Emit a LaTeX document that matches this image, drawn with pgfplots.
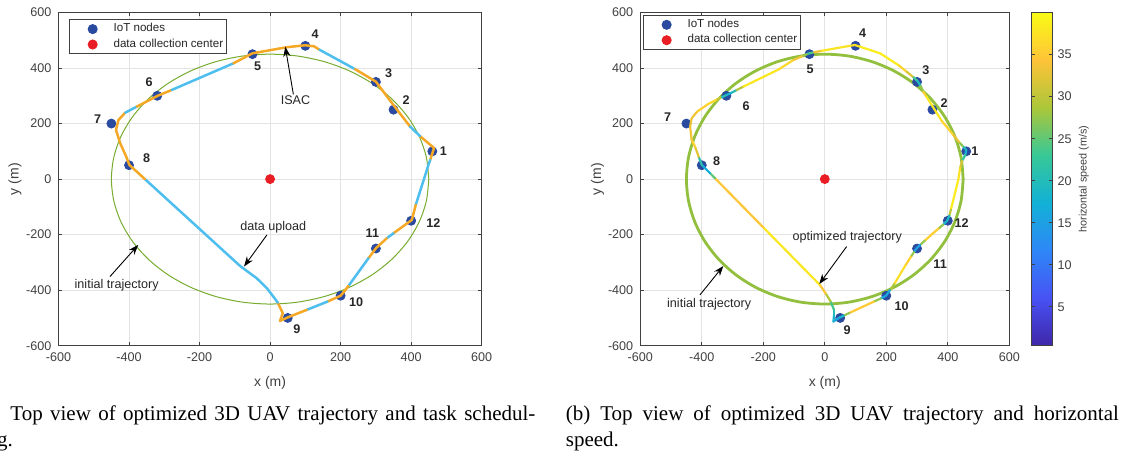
\documentclass[border=0pt]{standalone}
\usepackage{fontspec}
\setmainfont{Liberation Sans}
\newfontfamily\capfont{Liberation Serif}
\usepackage{pgfplots}
\pgfplotsset{compat=1.18}
\usetikzlibrary{arrows.meta}
\definecolor{trorange}{RGB}{245,168,38}
\definecolor{trblue}{RGB}{77,190,238}
\definecolor{initgreen}{RGB}{119,172,48}
\definecolor{initgreenb}{RGB}{146,192,62}
\definecolor{nodeblue}{RGB}{42,74,160}
\definecolor{dcred}{RGB}{232,30,36}
\definecolor{axgray}{RGB}{64,64,64}
\tikzset{
  nlab/.style={font=\bfseries\fontsize{6.3}{7.5}\selectfont, text=black!85},
  atext/.style={font=\fontsize{6.3}{7.5}\selectfont, text=black!85},
  aarrow/.style={-{Stealth[length=5pt,width=3.6pt]}, black, line width=0.45pt},
}
\pgfplotsset{
  colormap={parula}{rgb255=(62,38,168) rgb255=(72,82,244) rgb255=(46,135,247) rgb255=(18,177,214) rgb255=(55,200,151) rgb255=(171,199,57) rgb255=(254,195,56) rgb255=(249,251,21)},
  mfig/.style={
    scale only axis, height=166.6pt, anchor=south west,
    xmin=-600, xmax=600, ymin=-600, ymax=600,
    xtick={-600,-400,-200,0,200,400,600},
    ytick={-600,-400,-200,0,200,400,600},
    xticklabels={-600,-400,-200,0,200,400,600},
    yticklabels={-600,-400,-200,0,200,400,600},
    tick align=inside, major tick length=1.8pt,
    grid=major, grid style={line width=0.35pt, black!11},
    axis line style={axgray, line width=0.5pt},
    tick style={axgray, line width=0.5pt},
    tick label style={font=\fontsize{6.3}{7.5}\selectfont, text=axgray},
    label style={font=\fontsize{7}{8.4}\selectfont, text=axgray},
    xlabel={x (m)}, ylabel={y (m)},
    legend cell align=left,
    clip mode=individual,
  },
  dotlegend/.style={legend image code/.code={\path (-10.2pt,0pt) (9.4pt,0pt); \draw[##1] plot coordinates {(0pt,0pt)};}},
  trO/.style={trorange, line width=1.25pt, line join=round, line cap=round},
  trB/.style={trblue, line width=1.25pt, line join=round, line cap=round},
}
\begin{document}
\begin{tikzpicture}
\useasboundingbox (0pt,0pt) rectangle (566pt,229pt);
\clip (0pt,0pt) rectangle (566pt,229pt);
% ---------------- left panel ----------------
\begin{axis}[mfig, at={(29.25pt,56.15pt)}, width=211.6pt,
  xlabel style={at={(axis description cs:0.5,-0.112)}, anchor=center},
  ylabel style={at={(axis description cs:-0.103,0.5)}, anchor=center},
  legend style={at={(0.0255,0.9796)}, anchor=north west, draw=axgray, line width=0.5pt, fill=white,
     font=\fontsize{5.8}{7}\selectfont, inner sep=1pt, nodes={inner sep=0.8pt, text=black!85}, row sep=0.4pt}]
\addplot[initgreen, line width=0.5pt, smooth, forget plot] coordinates {(450,0) (443.2,78.1) (422.9,153.9) (389.7,225) (344.7,289.3) (289.3,344.7) (225,389.7) (153.9,422.9) (78.1,443.2) (0,450) (-78.1,443.2) (-153.9,422.9) (-225,389.7) (-289.3,344.7) (-344.7,289.3) (-389.7,225) (-422.9,153.9) (-443.2,78.1) (-450,0) (-443.2,-78.1) (-422.9,-153.9) (-389.7,-225) (-344.7,-289.3) (-289.3,-344.7) (-225,-389.7) (-153.9,-422.9) (-78.1,-443.2) (0,-450) (78.1,-443.2) (153.9,-422.9) (225,-389.7) (289.3,-344.7) (344.7,-289.3) (389.7,-225) (422.9,-153.9) (443.2,-78.1) (450,0)};
\addplot[only marks, mark=*, mark size=2.25pt, nodeblue, dotlegend] coordinates {(460,100) (350,250) (300,350) (100,480) (-50,450) (-320,300) (-450,200) (-400,50) (50,-500) (200,-420) (300,-250) (400,-150)};
\addlegendentry{IoT nodes}
\addplot[only marks, mark=*, mark size=2.25pt, dcred, dotlegend] coordinates {(0,0)};
\addlegendentry{data collection center}
\addplot[trO, forget plot] coordinates {(425,155) (465,112) (454,69)};
\addplot[trB, forget plot] coordinates {(454,69) (449,51) (413,-93)};
\addplot[trO, forget plot] coordinates {(413,-93) (402,-147) (350,-195)};
\addplot[trB, forget plot] coordinates {(350,-195) (331,-213)};
\addplot[trO, forget plot] coordinates {(331,-213) (300,-249) (279,-285)};
\addplot[trB, forget plot] coordinates {(279,-285) (222,-385)};
\addplot[trO, forget plot] coordinates {(222,-385) (210,-405) (200,-420) (163,-441)};
\addplot[trB, forget plot] coordinates {(163,-441) (104,-471)};
\addplot[trO, forget plot] coordinates {(104,-471) (50,-498) (28,-511) (36,-483) (27,-459) (22,-445)};
\addplot[trB, forget plot] coordinates {(22,-445) (9,-423) (-9,-393) (-38,-357) (-85,-313) (-355,0)};
\addplot[trO, forget plot] coordinates {(-355,0) (-399,51) (-408,81) (-425,129) (-437,177) (-430,213) (-411,239)};
\addplot[trB, forget plot] coordinates {(-411,239) (-378,261)};
\addplot[trO, forget plot] coordinates {(-378,261) (-319,300) (-279,321)};
\addplot[trB, forget plot] coordinates {(-279,321) (-104,417)};
\addplot[trO, forget plot] coordinates {(-104,417) (-50,453) (47,475) (100,482) (125,478) (140,466)};
\addplot[trB, forget plot] coordinates {(140,466) (241,396)};
\addplot[trO, forget plot] coordinates {(241,396) (300,351) (330,300) (360,250) (397,189)};
\addplot[trB, forget plot] coordinates {(397,189) (425,155)};
\node[nlab] at (axis cs:491,102) {1};
\node[nlab] at (axis cs:386,285) {2};
\node[nlab] at (axis cs:336,383) {3};
\node[nlab] at (axis cs:128,521) {4};
\node[nlab] at (axis cs:-35,408) {5};
\node[nlab] at (axis cs:-343,349) {6};
\node[nlab] at (axis cs:-489,215) {7};
\node[nlab] at (axis cs:-350,75) {8};
\node[nlab] at (axis cs:76,-541) {9};
\node[nlab] at (axis cs:244,-445) {10};
\node[nlab] at (axis cs:290,-193) {11};
\node[nlab] at (axis cs:463,-159) {12};
\node[atext] at (axis cs:72,285) {ISAC};
\draw[aarrow] (axis cs:66,305) -- (axis cs:43,477);
\node[atext] at (axis cs:9,-175) {data upload};
\draw[aarrow] (axis cs:-9,-201) -- (axis cs:-74,-315);
\node[atext] at (axis cs:-435,-381) {initial trajectory};
\draw[aarrow] (axis cs:-454,-351) -- (axis cs:-374,-237);
\end{axis}
% ---------------- right panel ----------------
\begin{axis}[mfig, at={(320.15pt,56.15pt)}, width=184.5pt,
  xlabel style={at={(axis description cs:0.5,-0.112)}, anchor=center},
  ylabel style={at={(axis description cs:-0.116,0.5)}, anchor=center},
  legend style={at={(0.008,0.9925)}, anchor=north west, draw=axgray, line width=0.5pt, fill=white,
     font=\fontsize{5.8}{7}\selectfont, inner sep=1pt, nodes={inner sep=0.8pt, text=black!85}, row sep=0.4pt},
  colormap name=parula, point meta min=0.4, point meta max=40,
  colorbar,
  colorbar style={at={(parent axis.north east)}, anchor=north west, xshift=2.55pt, width=10.5pt,
    ytick={5,10,15,20,25,30,35}, yticklabels={5,10,15,20,25,30,35},
    yticklabel style={font=\fontsize{6.3}{7.5}\selectfont, text=axgray, xshift=-1pt},
    tick align=inside, major tick length=1.8pt,
    axis line style={axgray, line width=0.5pt}, tick style={axgray, line width=0.5pt},
    ylabel={horizontal speed (m/s)},
    ylabel style={font=\fontsize{5.4}{6.5}\selectfont, text=axgray, at={(axis description cs:2.49,0.5)}, anchor=center}}]
\addplot[initgreenb, line width=1.4pt, smooth, forget plot] coordinates {(450,0) (443.2,78.1) (422.9,153.9) (389.7,225) (344.7,289.3) (289.3,344.7) (225,389.7) (153.9,422.9) (78.1,443.2) (0,450) (-78.1,443.2) (-153.9,422.9) (-225,389.7) (-289.3,344.7) (-344.7,289.3) (-389.7,225) (-422.9,153.9) (-443.2,78.1) (-450,0) (-443.2,-78.1) (-422.9,-153.9) (-389.7,-225) (-344.7,-289.3) (-289.3,-344.7) (-225,-389.7) (-153.9,-422.9) (-78.1,-443.2) (0,-450) (78.1,-443.2) (153.9,-422.9) (225,-389.7) (289.3,-344.7) (344.7,-289.3) (389.7,-225) (422.9,-153.9) (443.2,-78.1) (450,0)};
\addplot[only marks, mark=*, mark size=2.25pt, nodeblue, dotlegend] coordinates {(460,100) (350,250) (300,350) (100,480) (-50,450) (-320,300) (-450,200) (-400,50) (50,-500) (200,-420) (300,-250) (400,-150)};
\addlegendentry{IoT nodes}
\addplot[only marks, mark=*, mark size=2.25pt, dcred, dotlegend] coordinates {(0,0)};
\addlegendentry{data collection center}
\addplot[mesh, point meta=explicit, line width=1.1pt, line cap=round, forget plot] table[meta index=2] {
x y c
460 105 17
457 88 18
447 66 27
440 40 36
434 -3 39
410 -110 38
405 -132 22
398 -150 16
385 -164 22
370 -178 33
350 -197 38
325 -222 33
310 -237 22
299 -249 8
290 -263 22
280 -280 33
262 -311 38
226 -378 36
212 -400 22
199 -420 10
182 -430 22
160 -441 33
125 -459 37
80 -482 33
62 -492 22
49 -498 15
28 -513 17
30 -490 19
30 -471 21
19 -441 26
3 -412 32
-16 -381 37
-200 -174 39
-357 3 30
-373 21 20
-400 51 14
-410 80 28
-422 117 37
-433 141 34
-438 189 33
-433 219 33
-415 243 34
-380 270 37
-350 287 36
-335 295 25
-319 303 16
-300 313 20
-286 321 22
-265 333 37
-150 395 39
-102 429 34
-70 444 33
-54 452 22
-50 453 18
-35 457 30
-10 462 37
40 472 39
98 483 36
114 477 38
180 453 39
240 410 38
266 387 34
288 367 30
301 354 17
312 335 22
320 315 33
330 298 38
380 210 38
418 159 34
440 129 32
452 115 22
460 105 17
};
\node[nlab] at (axis cs:488,99) {1};
\node[nlab] at (axis cs:388,275) {2};
\node[nlab] at (axis cs:329,393) {3};
\node[nlab] at (axis cs:123,527) {4};
\node[nlab] at (axis cs:-48,397) {5};
\node[nlab] at (axis cs:-256,263) {6};
\node[nlab] at (axis cs:-511,223) {7};
\node[nlab] at (axis cs:-352,64) {8};
\node[nlab] at (axis cs:73,-543) {9};
\node[nlab] at (axis cs:250,-457) {10};
\node[nlab] at (axis cs:375,-307) {11};
\node[nlab] at (axis cs:445,-159) {12};
\node[atext] at (axis cs:73,-211) {optimized trajectory};
\draw[aarrow] (axis cs:71,-243) -- (axis cs:-18,-378);
\node[atext] at (axis cs:-376,-450) {initial trajectory};
\draw[aarrow] (axis cs:-406,-417) -- (axis cs:-330,-313);
\end{axis}
% ---------------- captions ----------------
\node[anchor=base west, inner sep=0pt] at (5pt,18.5pt) {\parbox[t]{262.5pt}{\capfont\fontsize{10.5}{13}\selectfont\tolerance=10000 Top view of optimized 3D UAV trajectory and task schedul-\linebreak\hspace*{-14.85pt}ing.}};
\node[anchor=base west, inner sep=0pt] at (282.75pt,18.5pt) {\parbox[t]{276.5pt}{\capfont\fontsize{10.5}{13}\selectfont\tolerance=10000 (b) Top view of optimized 3D UAV trajectory and horizontal\linebreak speed.}};
\end{tikzpicture}
\end{document}
